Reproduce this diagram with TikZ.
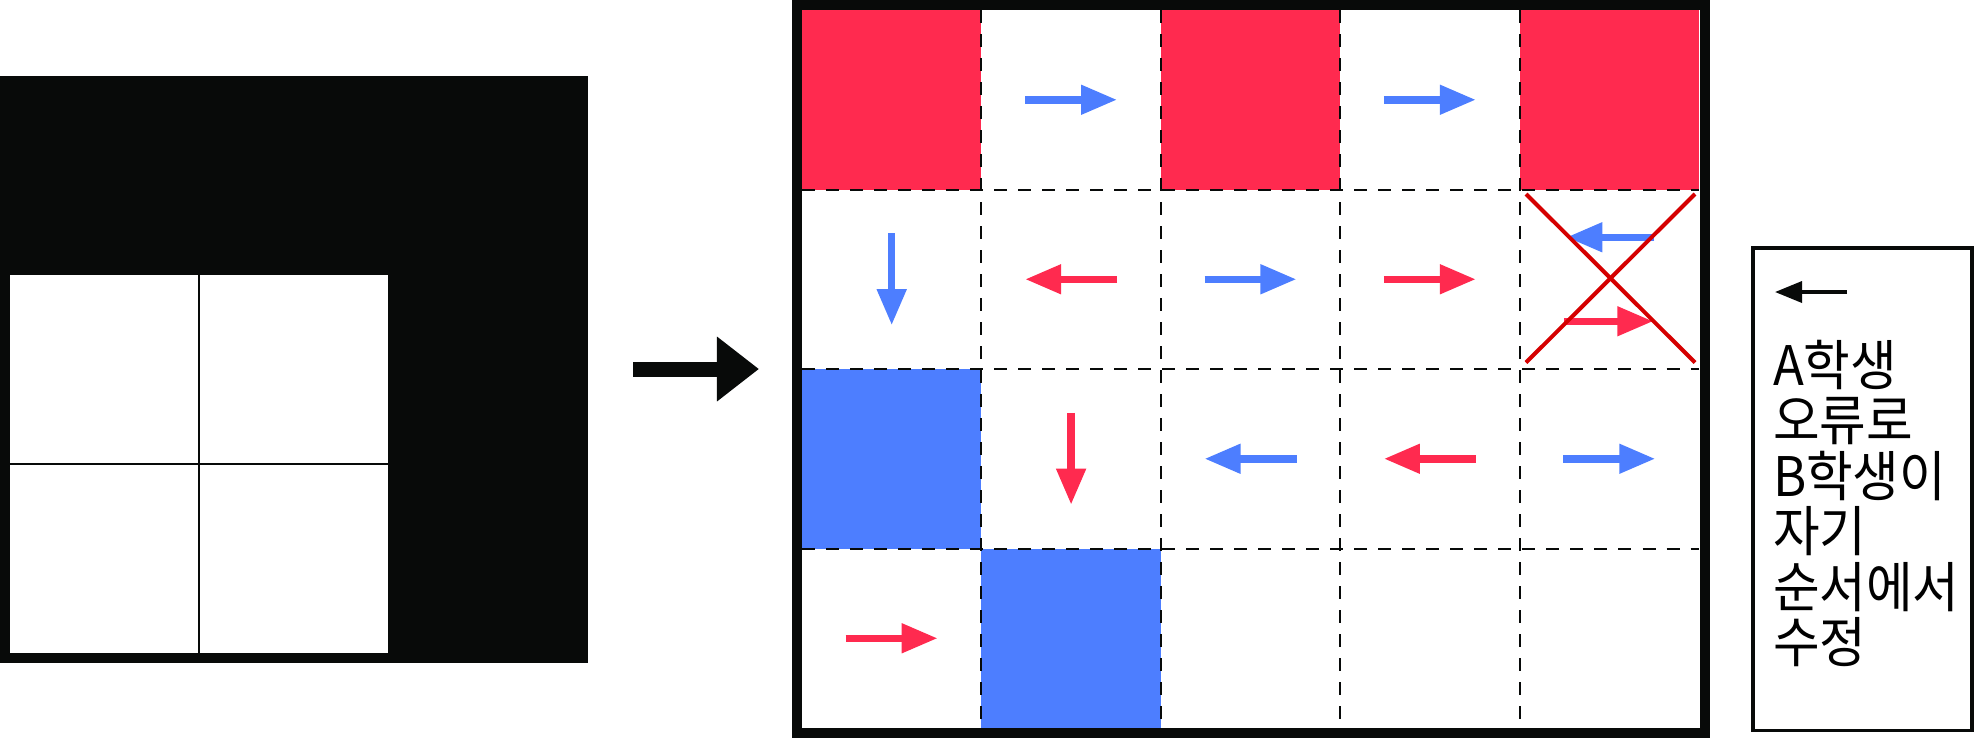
\documentclass[tikz,border=0pt]{standalone}
\usepackage{fontspec}
\newfontfamily\krfont[FakeStretch=0.93]{Noto Sans CJK KR}
\usetikzlibrary{arrows.meta,positioning,calc}

\definecolor{inkblack}{HTML}{080A09}
\definecolor{cellred}{HTML}{FF2A4F}
\definecolor{cellblue}{HTML}{4D7EFF}
\definecolor{crossred}{HTML}{D50000}

\begin{document}
\begin{tikzpicture}[
    x=0.01cm, y=-0.01cm,
    cellarrow/.style={line width=0.75mm, -{Triangle[length=3.6mm, width=2.8mm]}},
    gridline/.style={inkblack, line width=0.2mm, dash pattern=on 1.3mm off 1.1mm},
    crossline/.style={crossred, line width=0.4mm},
    legtext/.style={font={\krfont\fontsize{15.5pt}{18.5pt}\selectfont}, anchor=base west},
    every node/.style={inner sep=0pt, outer sep=0pt}
]
\useasboundingbox (0,0) rectangle (1975,738);

\node[fill=inkblack, minimum width=5.88cm, minimum height=5.869cm, anchor=north west] (board) at (0,75.6) {};
\node[fill=white, minimum width=3.78cm, minimum height=3.775cm, anchor=north west] (window) at (10,275) {};
\draw[inkblack, line width=0.23mm] (window.north) -- (window.south) (window.west) -- (window.east);

\coordinate (bigtail) at (633,369);
\coordinate (bighead) at (759,369);
\draw[inkblack, line width=1.5mm, -{Triangle[length=4.2mm, width=6.2mm]}] (bigtail) -- (bighead);

\fill[cellred] (802,10) rectangle ++(179.4,179.5);
\fill[cellred] (1160.8,10) rectangle ++(179.4,179.5);
\fill[cellred] (1519.6,10) rectangle ++(179.4,179.5);
\fill[cellblue] (802,369) rectangle ++(179.4,179.5);
\fill[cellblue] (981.4,548.5) rectangle ++(179.4,179.5);

\foreach \c in {1,...,4}
    \draw[gridline] ({802+179.4*\c},10) -- ++(0,718);
\foreach \r in {1,2,3}
    \draw[gridline] (802,{10+179.5*\r}) -- ++(897,0);

\foreach \c in {0,...,4} {
    \foreach \r in {0,...,3} {
        \coordinate (c\c\r) at ({802+179.4*(\c+0.5)},{10+179.5*(\r+0.5)});
    }
}

\draw[cellarrow, cellblue] ($(c10)+(-46,0)$) -- ($(c10)+(46,0)$);
\draw[cellarrow, cellblue] ($(c30)+(-46,0)$) -- ($(c30)+(46,0)$);

\draw[cellarrow, cellblue] ($(c01)+(0,-46)$) -- ($(c01)+(0,46)$);
\draw[cellarrow, cellred] ($(c11)+(46,0)$) -- ($(c11)+(-46,0)$);
\draw[cellarrow, cellblue] ($(c21)+(-46,0)$) -- ($(c21)+(46,0)$);
\draw[cellarrow, cellred] ($(c31)+(-46,0)$) -- ($(c31)+(46,0)$);
\draw[cellarrow, cellblue] ($(c41)+(45,-42)$) -- ($(c41)+(-43,-42)$);
\draw[cellarrow, cellred] ($(c41)+(-45,42)$) -- ($(c41)+(44,42)$);

\draw[cellarrow, cellred] ($(c12)+(0,-46)$) -- ($(c12)+(0,46)$);
\draw[cellarrow, cellblue] ($(c22)+(46,0)$) -- ($(c22)+(-46,0)$);
\draw[cellarrow, cellred] ($(c32)+(46,0)$) -- ($(c32)+(-46,0)$);
\draw[cellarrow, cellblue] ($(c42)+(-46,0)$) -- ($(c42)+(46,0)$);

\draw[cellarrow, cellred] ($(c03)+(-46,0)$) -- ($(c03)+(46,0)$);

\draw[crossline] (1526,194) -- (1695,362.5);
\draw[crossline] (1695,194) -- (1526,362.5);

\node[draw=inkblack, line width=1mm, minimum width=9.07cm, minimum height=7.28cm, anchor=north west] (grid) at (797,5) {};

\node[draw=inkblack, line width=0.33mm, minimum width=2.19cm, minimum height=4.82cm, anchor=north west] (legend) at (1753,248) {};
\coordinate (legtail) at (1847,292);
\coordinate (leghead) at (1775,292);
\draw[inkblack, line width=0.35mm, -{Triangle[length=2.7mm, width=2.1mm]}] (legtail) -- (leghead);

\node[legtext] (line1) at (1773,385) {A학생};
\node[legtext] (line2) at (1773,440.5) {오류로};
\node[legtext] (line3) at (1773,496) {B학생이};
\node[legtext] (line4) at (1773,551) {자기};
\node[legtext] (line5) at (1773,607) {순서에서};
\node[legtext] (line6) at (1773,662) {수정};

\end{tikzpicture}
\end{document}
